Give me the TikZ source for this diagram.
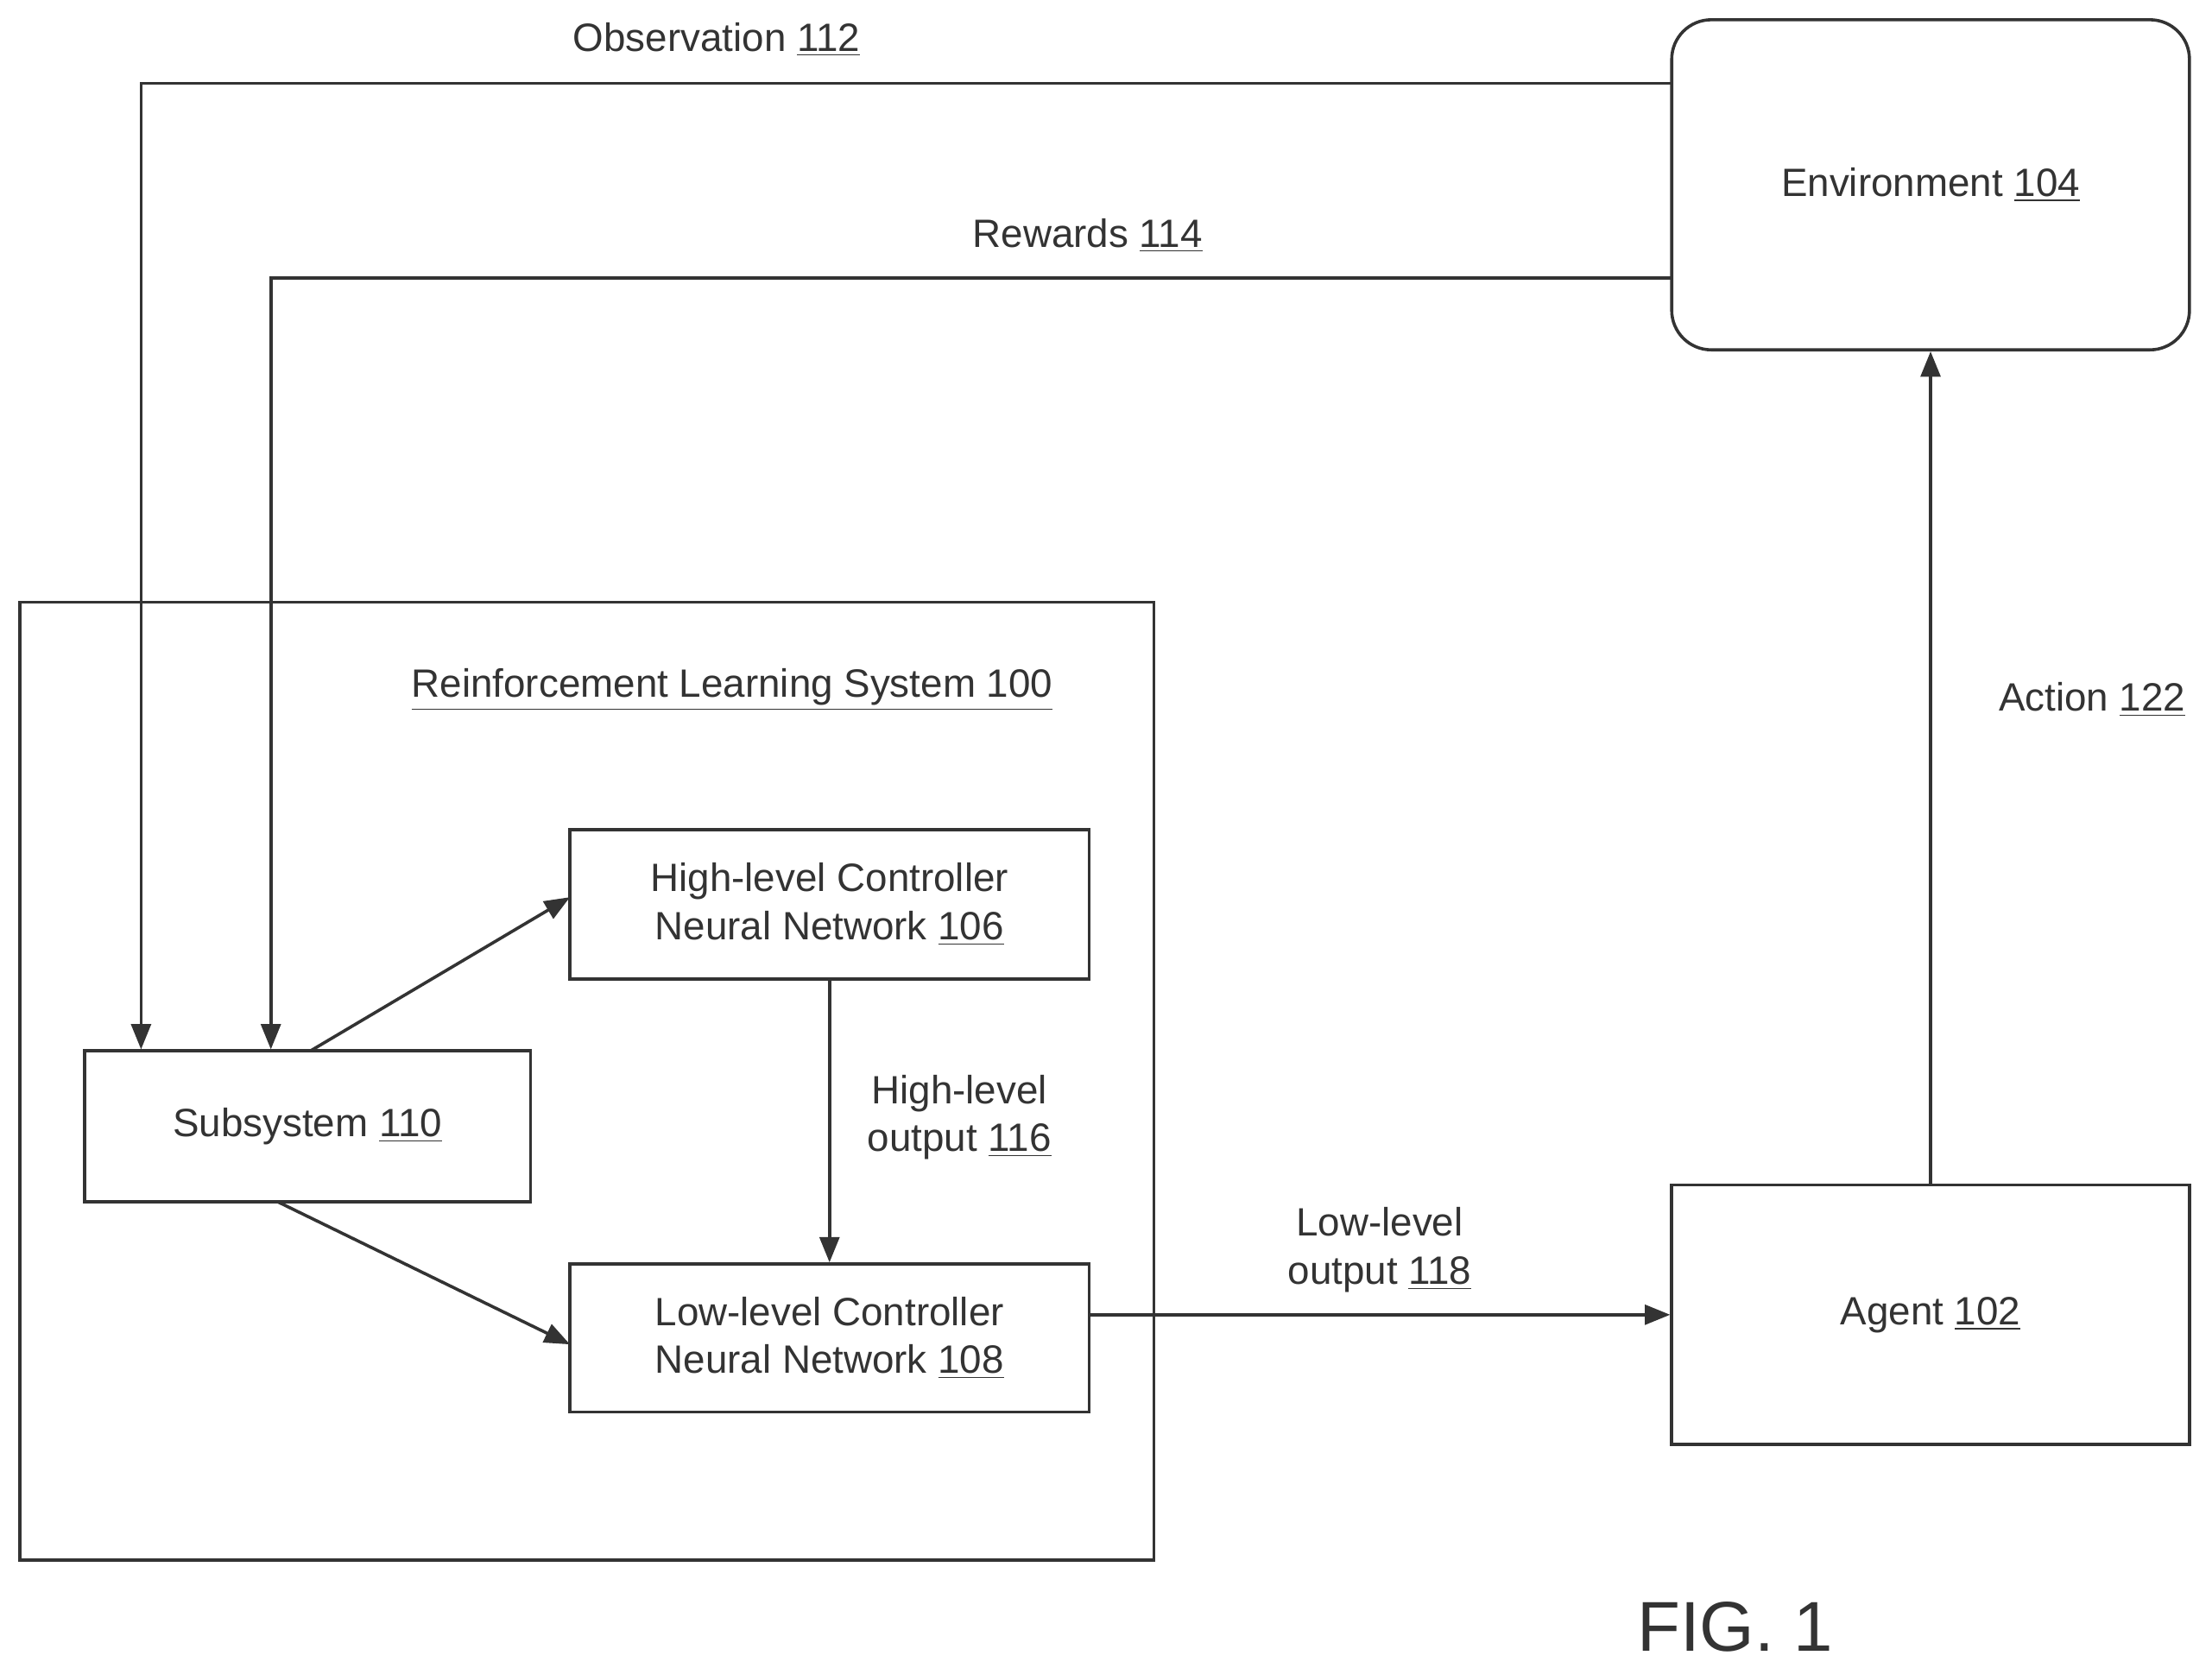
\documentclass[tikz,border=0pt]{standalone}
\usepackage{fontspec}
\setmainfont{Liberation Sans}
\usetikzlibrary{arrows.meta}
\begin{document}
\begin{tikzpicture}[x={(0.5pt,0)},y={(0,-0.5pt)},
  line width=1.1pt, draw=black!80, text=black!80,
  every node/.style={font=\fontsize{14}{17}\selectfont, text=black!80},
  box/.style={draw=black!80, line width=1.1pt, inner sep=0},
  arr/.style={-{Triangle[length=9pt,width=7pt]}, draw=black!80},
  lbl/.style={align=center}]
\useasboundingbox (0,0) rectangle (1568,1182);
\node[box, rounded corners=14pt, minimum width=183.5pt, minimum height=117pt] (env) at (1368.5,131) {Environment \underline{104}};
\node[box, minimum width=402pt, minimum height=339.5pt] (rl) at (416,766.5) {};
\node at (519,489) {\underline{Reinforcement Learning System 100}};
\node[box, minimum width=184pt, minimum height=53pt, lbl] (hl) at (588,641) {High-level Controller\\Neural Network \underline{106}};
\node[box, minimum width=158pt, minimum height=53.5pt] (sub) at (218,798.5) {Subsystem \underline{110}};
\node[box, minimum width=184pt, minimum height=52.5pt, lbl] (ll) at (588,948.5) {Low-level Controller\\Neural Network \underline{108}};
\node[box, minimum width=183.5pt, minimum height=92pt] (ag) at (1368.5,932) {Agent \underline{102}};
\coordinate (o1) at (1185,59); \coordinate (o2) at (100,59);
\coordinate (r1) at (1185,197); \coordinate (r2) at (192,197);
\draw[arr] (o1) -- (o2) -- (o2 |- sub.north);
\draw[arr] (r1) -- (r2) -- (r2 |- sub.north);
\node at (508,28) {Observation \underline{112}};
\node at (771,167) {Rewards \underline{114}};
\draw[arr] (220,745) -- (404,636);
\draw[arr] (197,852) -- (404,953);
\draw[arr] (hl.south) -- (ll.north);
\node[lbl] at (680,792) {High-level\\output \underline{116}};
\draw[arr] (ll.east |- ag.west) -- (ag.west);
\node[lbl] at (978,886) {Low-level\\output \underline{118}};
\draw[arr] (ag.north) -- (env.south);
\node at (1483,496) {Action \underline{122}};
\node[font=\fontsize{25}{30}\selectfont] at (1230,1153) {FIG. 1};
\end{tikzpicture}
\end{document}
